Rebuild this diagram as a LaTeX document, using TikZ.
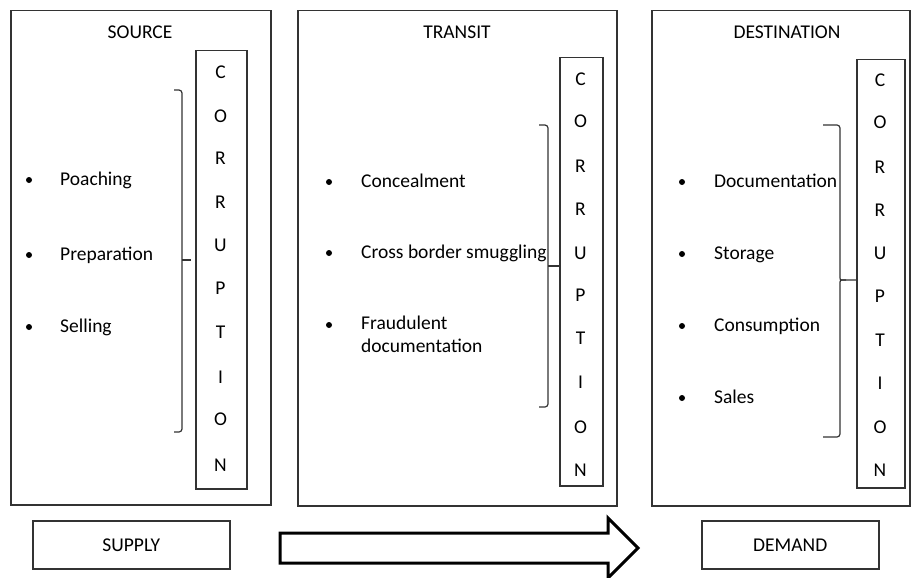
\documentclass[tikz,border=0pt]{standalone}
\usepackage{fontspec}
\setmainfont{Carlito}
\begin{document}
\begin{tikzpicture}[x=1pt,y=-1pt,
  box/.style={draw=black!80, line width=1.5pt, inner sep=0pt, anchor=north west},
  lbl/.style={font=\fontsize{19.5}{23.5}\selectfont, inner sep=0pt},
  item/.style={lbl, anchor=mid west, align=left, yshift=-3.5pt},
  letter/.style={lbl, anchor=center},
  brk/.style={draw=black!80, line width=1.2pt, rounded corners=3pt},
  dot/.style={circle, fill=black, inner sep=0pt, minimum size=6pt}]
\path[use as bounding box, fill=white] (0,0) rectangle (911,578);

% ---------- SOURCE ----------
\node[box, minimum width=260pt, minimum height=494pt] (src) at (10,10) {};
\node[lbl] (srct) at (140,32) {SOURCE};
\node[box, minimum width=51pt, minimum height=438pt] (srcc) at (195,50) {};
\foreach \l/\y [count=\i] in {C/72,O/116,R/158,R/202,U/245,P/288,T/332,I/377,O/419,N/465}
  \node[letter] (sl\i) at (220.5,\y) {\l};
\node[dot] (sb1) at (29,180) {};
\node[dot] (sb2) at (29,255) {};
\node[dot] (sb3) at (29,327) {};
\node[item] (si1) at (60,180) {Poaching};
\node[item] (si2) at (60,255) {Preparation};
\node[item] (si3) at (60,327) {Selling};
\coordinate (sbt) at (174,90);
\coordinate (sbb) at (174,432);
\coordinate (sbm) at (191,260);
\draw[brk] (sbt) -- (182,90) -- (182,432) -- (sbb);
\draw[brk] (182,260) -- (sbm);
\node[box, minimum width=197pt, minimum height=48pt] (supply) at (32,520) {};
\node[lbl] (supplyt) at (supply.center) {SUPPLY};

% ---------- TRANSIT ----------
\node[box, minimum width=319pt, minimum height=495pt] (tr) at (297,10) {};
\node[lbl] (trt) at (457,32) {TRANSIT};
\node[box, minimum width=43pt, minimum height=428pt] (trc) at (559,57) {};
\foreach \l/\y [count=\i] in {C/79,O/121,R/166,R/209,U/253,P/295,T/338,I/382,O/427,N/470}
  \node[letter] (tl\i) at (580.5,\y) {\l};
\node[dot] (tb1) at (329,182) {};
\node[dot] (tb2) at (329,253) {};
\node[dot] (tb3) at (329,325) {};
\node[item] (ti1) at (361,182) {Concealment};
\node[item] (ti2) at (361,253) {Cross border smuggling};
\node[lbl, anchor=north west, align=left, font=\fontsize{19.5}{23}\selectfont] (ti3) at (361,316) {Fraudulent\\documentation};
\coordinate (tbt) at (539,125);
\coordinate (tbb) at (539,407);
\draw[brk] (tbt) -- (548,125) -- (548,407) -- (tbb);
\draw[brk] (548,266) -- (trc.west |- 548,266);

% ---------- DESTINATION ----------
\node[box, minimum width=258pt, minimum height=495pt] (de) at (651,10) {};
\node[lbl] (det) at (787,32) {DESTINATION};
\node[box, minimum width=48pt, minimum height=428pt] (dec) at (856,59) {};
\foreach \l/\y [count=\i] in {C/80,O/122,R/167,R/210,U/253,P/296,T/340,I/383,O/427,N/470}
  \node[letter] (dl\i) at (880,\y) {\l};
\node[dot] (db1) at (682,182) {};
\node[dot] (db2) at (682,254) {};
\node[dot] (db3) at (682,326) {};
\node[dot] (db4) at (682,398) {};
\node[item] (di1) at (714,182) {Documentation};
\node[item] (di2) at (714,254) {Storage};
\node[item] (di3) at (714,326) {Consumption};
\node[item] (di4) at (714,398) {Sales};
\coordinate (dbt) at (823,125);
\coordinate (dbb) at (823,437);
\draw[brk] (dbt) -- (840,125) -- (840,275) .. controls (840,280) .. (846,280) -- (dec.west |- 846,280);
\draw[brk] (846,280) .. controls (840,280) .. (840,285) -- (840,437) -- (dbb);
\node[box, minimum width=177pt, minimum height=48pt] (demand) at (701,520) {};
\node[lbl] (demandt) at (demand.center) {DEMAND};

% ---------- ARROW ----------
\draw[line width=3pt, line join=miter] (280,533) -- (608,533) -- (608,518) -- (638,548) -- (608,578) -- (608,563) -- (280,563) -- cycle;
\end{tikzpicture}
\end{document}
